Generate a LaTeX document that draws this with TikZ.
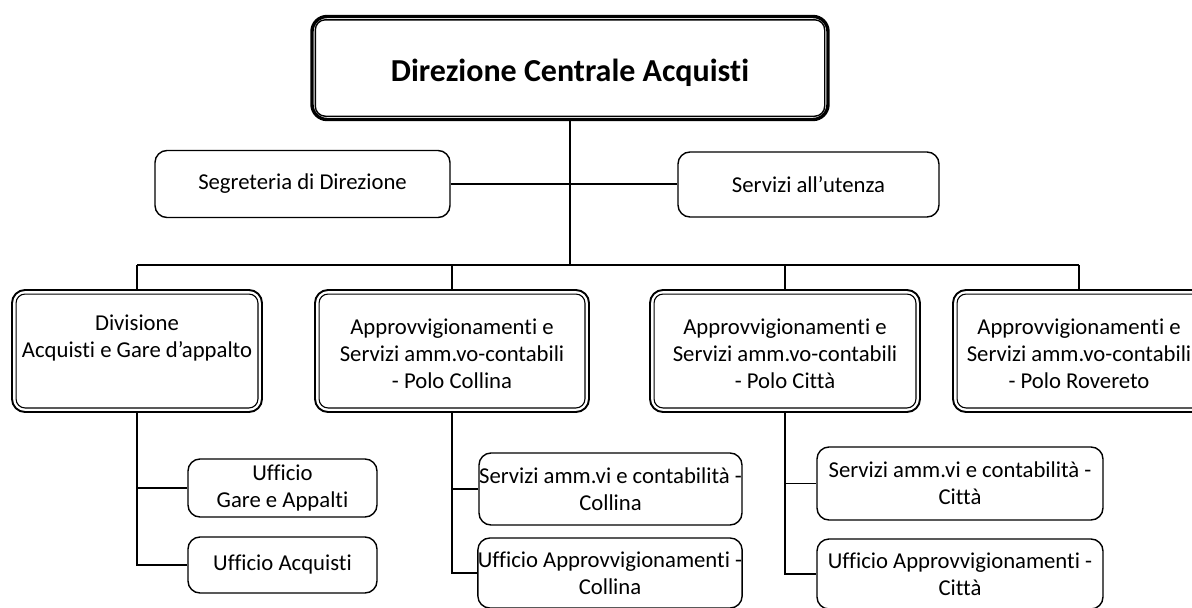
\documentclass[tikz,border=0pt]{standalone}
\usepackage{fontspec}
\setmainfont{Carlito}[Ligatures={NoCommon}]
\usetikzlibrary{calc}
\tikzset{
  sbox/.style={draw, rounded corners=12pt, line width=1.4pt, align=center, inner sep=0pt,
    font=\fontsize{22.7}{27}\selectfont},
  dbox/.style={draw, rounded corners=13pt, line width=1.9pt, inner sep=0pt},
  dtext/.style={align=center, inner sep=0pt, font=\fontsize{22.7}{27}\selectfont},
  tbox/.style={draw, rounded corners=15pt, line width=3.4pt, inner sep=0pt},
  ttext/.style={inner sep=0pt, font=\fontsize{32}{38}\selectfont\bfseries},
  conn/.style={line width=1.3pt},
  trunk/.style={line width=2.2pt},
}
\newcommand\innerline[3]{\draw[line width=#2, rounded corners=#3]
  ([shift={(5,5)}]#1.north west) rectangle ([shift={(-5,-5)}]#1.south east);}
\begin{document}
\begin{tikzpicture}[x=1pt,y=-1pt]
\useasboundingbox (0,0) rectangle (1192,608);
\clip (0,0) rectangle (1192,608);
\coordinate (bus) at (0,265);

% top
\node[tbox, minimum width=516pt, minimum height=103pt] (top) at (570,68) {};
\innerline{top}{1.4pt}{10pt}
\node[ttext] (topt) at ([yshift=-5pt]top.center) {Direzione Centrale Acquisti};

% staff
\node[sbox, minimum width=295pt, minimum height=67pt] (seg) at (302.5,184) {Segreteria di Direzione};
\node[sbox, minimum width=261pt, minimum height=65pt] (serv) at (808.5,184.5) {Servizi all’utenza};

% divisions
\node[dbox, minimum width=250pt, minimum height=122pt] (d1) at (137,351) {};
\node[dbox, minimum width=274pt, minimum height=122pt] (d2) at (452,351) {};
\node[dbox, minimum width=270pt, minimum height=122pt] (d3) at (785,351) {};
\node[dbox, minimum width=252pt, minimum height=122pt] (d4) at (1079,351) {};
\foreach \n in {d1,d2,d3,d4}{\innerline{\n}{1.1pt}{9pt}}
\node[dtext] (d1t) at ([yshift=-3pt]d1.center) {Divisione\\Acquisti e Gare d’appalto\\\strut};
\node[dtext] (d2t) at ([yshift=-3pt]d2.center) {Approvvigionamenti e\\Servizi amm.vo-contabili\\- Polo Collina};
\node[dtext] (d3t) at ([yshift=-3pt]d3.center) {Approvvigionamenti e\\Servizi amm.vo-contabili\\- Polo Città};
\node[dtext] (d4t) at ([yshift=-3pt]d4.center) {Approvvigionamenti e\\Servizi amm.vo-contabili\\- Polo Rovereto};

% sub offices
\node[sbox, minimum width=189pt, minimum height=58pt] (g1) at (282.5,488) {Ufficio\\Gare e Appalti};
\node[sbox, minimum width=189pt, minimum height=56pt] (g2) at (282.5,565) {Ufficio Acquisti};
\node[sbox, minimum width=263pt, minimum height=72pt] (c1) at (610.5,489) {Servizi amm.vi e contabilità -\\Collina};
\node[sbox, minimum width=264pt, minimum height=70pt] (c2) at (610,573) {Ufficio Approvvigionamenti -\\Collina};
\node[sbox, minimum width=286pt, minimum height=73pt] (t1) at (960,483.5) {Servizi amm.vi e contabilità -\\Città};
\node[sbox, minimum width=286pt, minimum height=70pt] (t2) at (960,574) {Ufficio Approvvigionamenti -\\Città};

% connectors
\draw[trunk] (top.south) -- (top.south |- bus);
\draw[conn] (seg.east) -- (seg.east -| serv.west);
\draw[conn] (d1.north |- bus) -- (d4.north |- bus);
\foreach \n in {d1,d2,d3,d4}{\draw[conn] (\n.north |- bus) -- (\n.north);}
\draw[conn] (d1.south) |- (g2.west);
\draw[conn] (d1.south |- g1.west) -- (g1.west);
\draw[conn] (d2.south) |- (c2.west);
\draw[conn] (d2.south |- c1.west) -- (c1.west);
\draw[conn] (d3.south) |- (t2.west);
\draw[conn] (d3.south |- t1.west) -- (t1.west);
\end{tikzpicture}
\end{document}
